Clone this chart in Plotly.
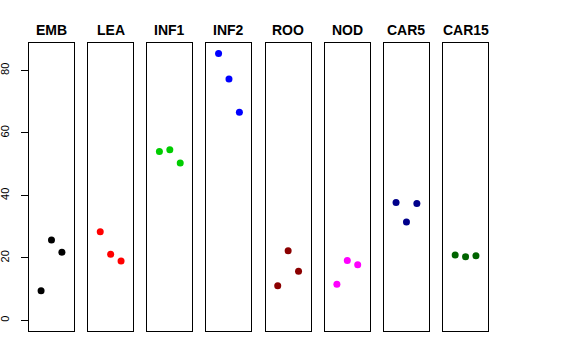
import plotly.graph_objects as go

panels = ["EMB", "LEA", "INF1", "INF2", "ROO", "NOD", "CAR5", "CAR15"]
colors = ["#000000", "#FF0000", "#00CD00", "#0000FF", "#8B0000", "#FF00FF", "#00008B", "#006400"]
x_pos = [1, 2, 3]
EMB = [9.5, 25.7, 21.8]
LEA = [28.4, 21.2, 19.0]
INF1 = [54.1, 54.6, 50.4]
INF2 = [85.4, 77.3, 66.6]
ROO = [11.1, 22.3, 15.7]
NOD = [11.6, 19.2, 17.8]
CAR5 = [37.7, 31.5, 37.4]
CAR15 = [20.9, 20.4, 20.7]
values = [EMB, LEA, INF1, INF2, ROO, NOD, CAR5, CAR15]
y_ticks = [0, 20, 40, 60, 80]

W, H = 576, 360
left, right, top, bottom = 29, 488.3, 43.3, 331
pw = 45.0
step = 59.2
plot_w = right - left

fig = go.Figure()
annotations = []
for i, (name, col, vals) in enumerate(zip(panels, colors, values)):
    xa = "x" if i == 0 else f"x{i+1}"
    ya = "y" if i == 0 else f"y{i+1}"
    fig.add_trace(go.Scatter(x=x_pos, y=vals, mode="markers",
                             marker=dict(color=col, size=7),
                             xaxis=xa, yaxis=ya, showlegend=False, hoverinfo="skip"))
    d0 = (i * step) / plot_w
    d1 = (i * step + pw) / plot_w
    d1 = min(d1, 1.0)
    xkey = "xaxis" if i == 0 else f"xaxis{i+1}"
    ykey = "yaxis" if i == 0 else f"yaxis{i+1}"
    fig.update_layout(**{
        xkey: dict(domain=[d0, d1], range=[-0.16, 4.16], showticklabels=False,
                   ticks="", showgrid=False, zeroline=False, showline=True,
                   linecolor="black", linewidth=1, mirror=True, anchor=ya,
                   automargin=False),
        ykey: dict(range=[-3.4, 88.8], showgrid=False, zeroline=False,
                   showline=True, linecolor="black", linewidth=1, mirror=True,
                   anchor=xa, automargin=False,
                   showticklabels=(i == 0), ticks="outside" if i == 0 else "",
                   tickvals=y_ticks if i == 0 else None, ticklen=7,
                   tickcolor="black", tickangle=-90, ticklabelstandoff=8,
                   tickfont=dict(size=11, color="black")),
    })
    annotations.append(dict(text=f"<b>{name}</b>", x=(d0 + d1) / 2, xref="paper",
                            xanchor="center",
                            y=1.0, yref="paper", yshift=13, yanchor="middle",
                            showarrow=False, font=dict(size=14, color="black")))

fig.update_layout(width=W, height=H, margin=dict(l=left, r=W - right, t=top, b=H - bottom, pad=0),
                  paper_bgcolor="white", plot_bgcolor="white",
                  font=dict(family="Liberation Sans, Arial, sans-serif", color="black"),
                  annotations=annotations)
fig.write_html("out.html", config={"displayModeBar": False},
               post_script="document.body.style.margin='0';")
